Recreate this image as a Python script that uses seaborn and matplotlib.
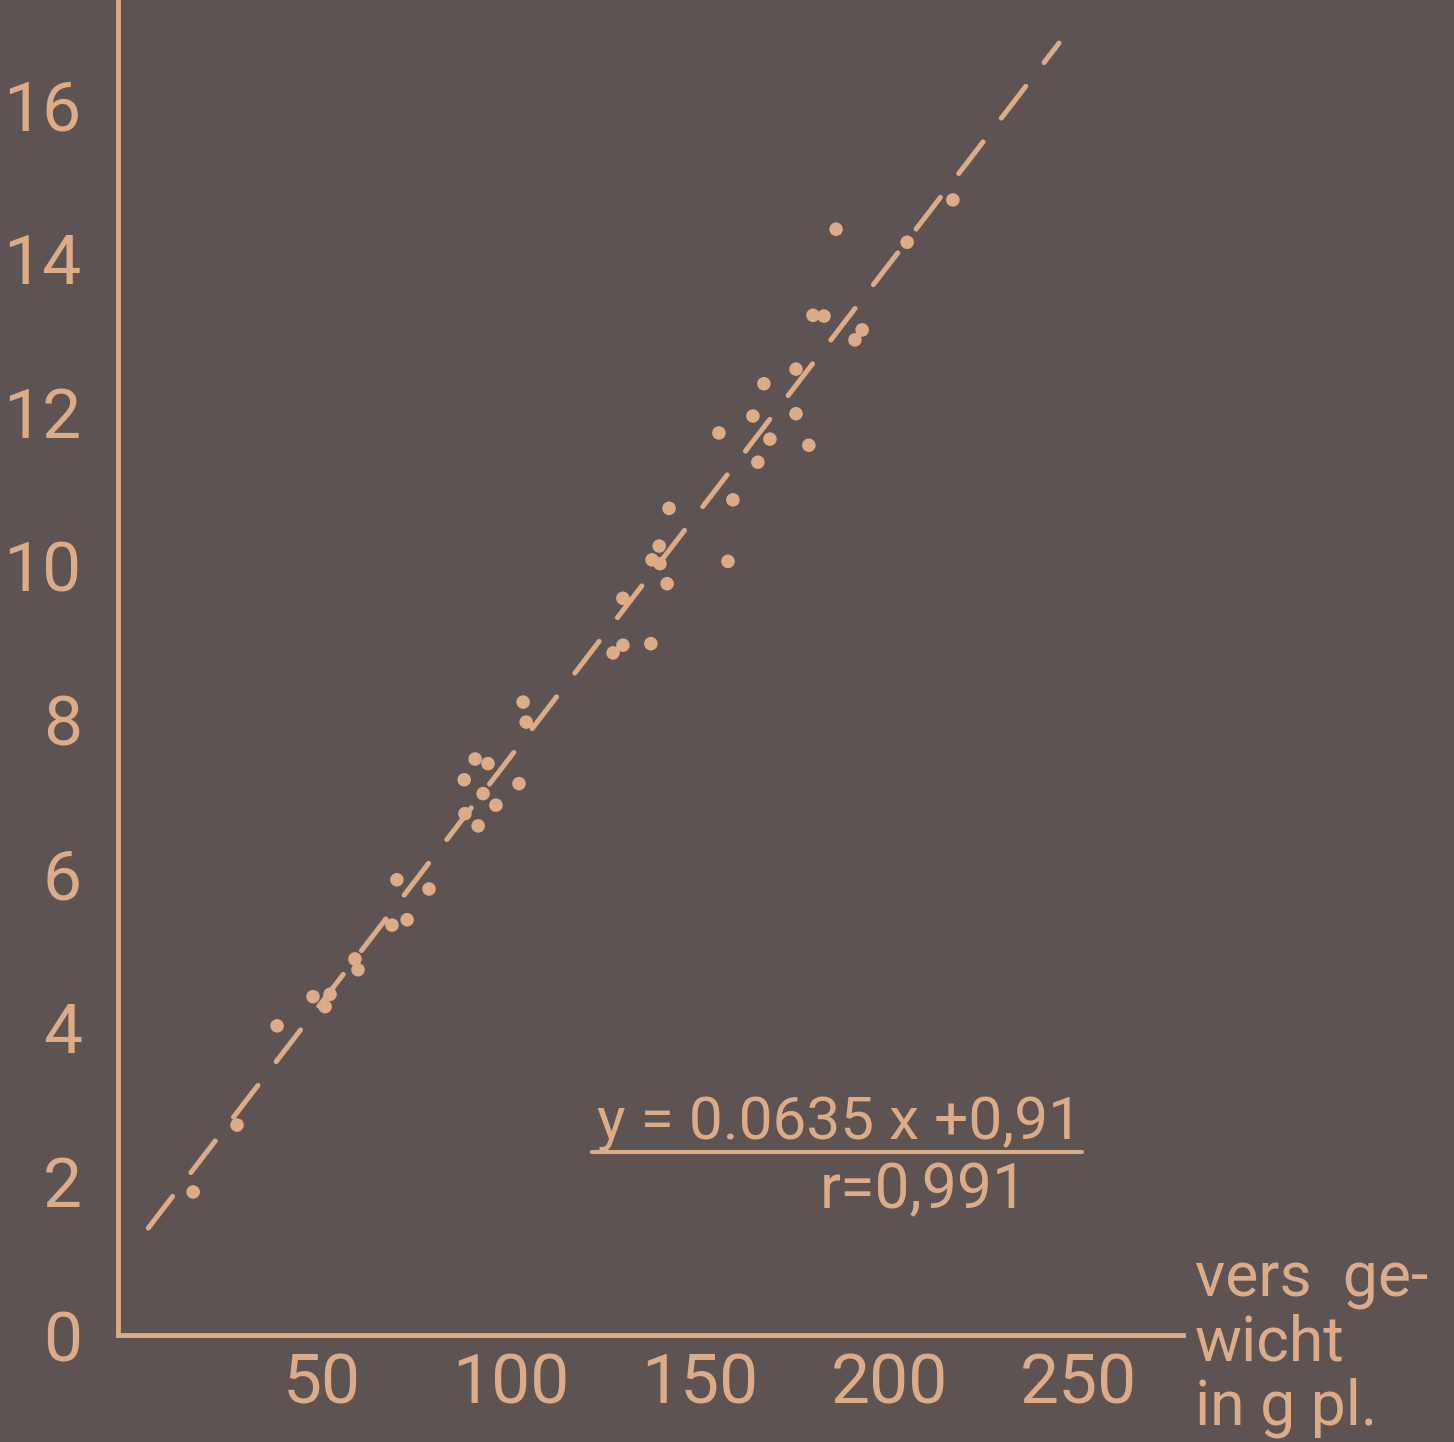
import numpy as np
import pandas as pd
import matplotlib.pyplot as plt
from matplotlib.lines import Line2D
import seaborn as sns


# ==================================================
# DATA
# ==================================================
fresh_weight = [
    15.9, 27.5, 38.1, 47.6, 52.1, 50.8, 58.7, 59.5,
    68.5, 72.5, 69.8, 78.3, 87.8, 91.3, 96.0, 92.6, 87.6, 90.5, 93.9, 102.1,
    104.0, 103.2, 127.0, 129.6, 137.0, 129.6, 141.3, 137.3, 139.4, 139.2,
    141.8, 157.4, 158.7, 165.3, 168.5, 178.8, 155.0, 164.0, 175.4, 166.9,
    175.4, 179.9, 182.8, 192.9, 191.0, 186.0, 204.8, 216.9,
]
dry_weight = [
    1.86, 2.73, 4.02, 4.40, 4.43, 4.27, 4.89, 4.75,
    5.33, 5.40, 5.92, 5.80, 6.78, 6.62, 6.89, 7.04, 7.22, 7.49, 7.43, 7.17,
    7.97, 8.23, 8.87, 8.97, 8.99, 9.58, 9.77, 10.08, 10.03, 10.26,
    10.75, 10.06, 10.86, 11.35, 11.65, 11.57, 11.73, 11.95, 11.98, 12.37,
    12.56, 13.26, 13.25, 13.07, 12.94, 14.38, 14.21, 14.76,
]

# regression line as drawn (two end points)
fit_x = [4.0, 245.0]
fit_y = [1.39, 16.80]

x_ticks = [50, 100, 150, 200, 250]
y_ticks = [0, 2, 4, 6, 8, 10, 12, 14, 16]

equation = "y = 0.0635 x +0,91"
corr = "r=0,991"
x_label = "vers  ge-\nwicht\nin g pl."

BG = "#5c5352"
FG = "#dcab88"

df = pd.DataFrame({"x": fresh_weight, "y": dry_weight})
fit_df = pd.DataFrame({"x": fit_x, "y": fit_y})

# ==================================================
# FIGURE
# ==================================================
sns.set_style("white")
plt.rcParams["font.family"] = ["Roboto", "DejaVu Sans"]

W, H = 1454, 1442
fig = plt.figure(figsize=(W / 100, H / 100), dpi=100, facecolor=BG)
ax = fig.add_axes([118 / W, 107 / H, (1183 - 118) / W, 1335 / H])
ax.set_facecolor(BG)

sns.lineplot(data=fit_df, x="x", y="y", ax=ax, color=FG, linewidth=3.6,
             dashes=False)
ax.lines[-1].set_dashes((8, 6))
ax.lines[-1].set_dash_capstyle("round")

sns.scatterplot(data=df, x="x", y="y", ax=ax, color=FG, s=95,
                edgecolor="none")

ax.set_xlim(-4.0, 277.8)
ax.set_ylim(0, 17.36)
ax.set_xticks(x_ticks)
ax.set_yticks(y_ticks)
ax.set_xlabel("")
ax.set_ylabel("")

for side in ["top", "right"]:
    ax.spines[side].set_visible(False)
for side in ["left", "bottom"]:
    ax.spines[side].set_color(FG)
    ax.spines[side].set_linewidth(3.5)

ax.tick_params(axis="both", length=0, labelsize=50, labelcolor=FG)
ax.tick_params(axis="y", pad=26)
ax.tick_params(axis="x", pad=12)

# equation block
fig.text(597 / W, 1 - 1140 / H, equation, color=FG, fontsize=43.5,
         ha="left", va="baseline")
fig.text(820 / W, 1 - 1208 / H, corr, color=FG, fontsize=45,
         ha="left", va="baseline")
fig.add_artist(Line2D([592 / W, 1082 / W], [1 - 1152 / H, 1 - 1152 / H],
                      color=FG, linewidth=3, transform=fig.transFigure))

# axis label at the right end of the x axis
fig.text(1195 / W, 1 - 1250 / H, x_label, color=FG, fontsize=45,
         ha="left", va="top", linespacing=1.08)

fig.savefig("out.png", dpi=100, facecolor=BG)
